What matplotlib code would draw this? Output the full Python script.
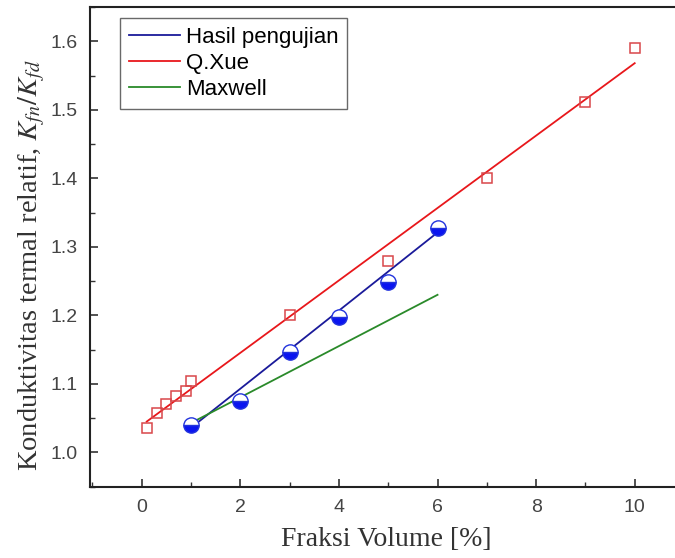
import matplotlib
matplotlib.use("Agg")
import matplotlib.pyplot as plt
from matplotlib.ticker import MultipleLocator, FormatStrFormatter

plt.rcParams["mathtext.fontset"] = "stix"

# Data
xue_x = [0.1, 0.3, 0.5, 0.7, 0.9, 1.0, 3, 5, 7, 9, 10]
xue_y = [1.035, 1.058, 1.070, 1.083, 1.090, 1.104, 1.200, 1.280, 1.400, 1.511, 1.590]
xue_line_x = [0.1, 10]
xue_line_y = [1.045, 1.568]

exp_x = [1, 2, 3, 4, 5, 6]
exp_y = [1.040, 1.075, 1.147, 1.198, 1.248, 1.328]
exp_line_x = [1, 6]
exp_line_y = [1.036, 1.321]

max_line_x = [1, 6]
max_line_y = [1.043, 1.230]

fig = plt.figure(figsize=(6.75, 5.58), dpi=100)
ax = fig.add_axes([90/675, 1 - 486.7/558, 594/675, (486.7 - 7)/558])

blue = "#1a1a9a"
red = "#e8171b"
green = "#2a8a2a"

ax.plot(exp_line_x, exp_line_y, color=blue, lw=1.3, label="Hasil pengujian", zorder=2)
ax.plot(xue_line_x, xue_line_y, color=red, lw=1.3, label="Q.Xue", zorder=2)
ax.plot(max_line_x, max_line_y, color=green, lw=1.3, label="Maxwell", zorder=2)

ax.plot(xue_x, xue_y, ls="none", marker="s", ms=7.5, mfc="none", mec="#d9474a",
        mew=1.1, zorder=3)
ax.plot(exp_x, exp_y, ls="none", marker="o", ms=11, fillstyle="bottom",
        mfc="#0a14f0", mfcalt="white", mec="#2233dd", mew=1.0, zorder=4)

ax.set_xlim(-1.05, 11)
ax.set_ylim(0.95, 1.65)
ax.xaxis.set_major_locator(MultipleLocator(2))
ax.xaxis.set_minor_locator(MultipleLocator(1))
ax.yaxis.set_major_locator(MultipleLocator(0.1))
ax.yaxis.set_minor_locator(MultipleLocator(0.05))
ax.yaxis.set_major_formatter(FormatStrFormatter("%.1f"))

ax.tick_params(which="both", direction="in", top=False, right=False,
               colors="#333333", labelcolor="#444444")
ax.tick_params(which="major", length=6, width=1.2, labelsize=14, pad=9)
ax.tick_params(which="minor", length=3.5, width=1.0)
for lab in ax.get_xticklabels() + ax.get_yticklabels():
    lab.set_family(["Liberation Sans", "DejaVu Sans"])
for s in ax.spines.values():
    s.set_linewidth(1.5)
    s.set_color("#222222")

ax.set_xlabel("Fraksi Volume [%]", family=["Liberation Serif", "DejaVu Serif"],
              fontsize=20, color="#333333")
ax.set_ylabel(r"Konduktivitas termal relatif, $K_{fn}/K_{fd}$",
              family=["Liberation Serif", "DejaVu Serif"], fontsize=20.5,
              color="#333333")
ax.xaxis.set_label_coords(0.498, -0.084)
ax.yaxis.set_label_coords(-0.072, 0.462)

leg = ax.legend(loc="upper left", bbox_to_anchor=(17/594, 1 + 2/480),
                frameon=True, fancybox=False, edgecolor="#444444",
                prop={"family": ["Liberation Sans", "DejaVu Sans"], "size": 16},
                handlelength=2.3, borderpad=0.4, labelspacing=0.22,
                handletextpad=0.25, borderaxespad=0.6)
leg.get_frame().set_linewidth(1.0)

fig.savefig("out.png", dpi=100)
